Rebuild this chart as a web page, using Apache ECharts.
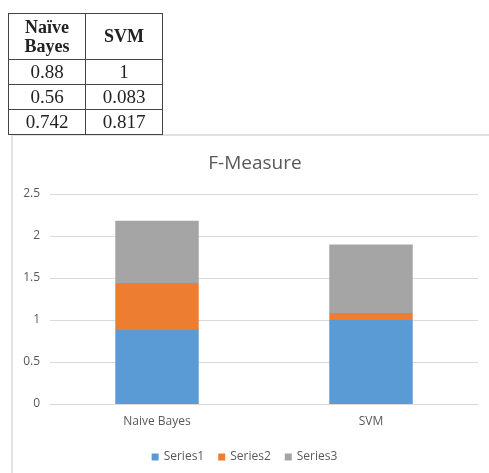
<!DOCTYPE html>
<html>
<head>
<meta charset="utf-8">
<script src="https://cdn.jsdelivr.net/npm/echarts@6/dist/echarts.min.js"></script>
<style>
  html, body { margin: 0; padding: 0; background: #fff; }
  #wrap { position: relative; width: 489px; height: 473px; overflow: hidden; }
  #chart { position: absolute; left: 0; top: 0; width: 489px; height: 473px; }
  #tbl { position: absolute; left: 8px; top: 13px; border-collapse: collapse; table-layout: fixed;
         font-family: "Liberation Serif", "DejaVu Serif", serif; color: #222; }
  #tbl td, #tbl th { border: 1.5px solid #444; text-align: center; padding: 0; overflow: hidden; white-space: nowrap; }
  #tbl th { font-weight: bold; font-size: 18px; line-height: 19px; height: 45px; }
  #tbl td { font-size: 19px; height: 24px; line-height: 20px; }
</style>
</head>
<body>
<div id="wrap">
  <div id="chart"></div>
  <table id="tbl"></table>
</div>
<script>
const categories = ["Naïve Bayes", "SVM"];
const axisCategories = ["Naive Bayes", "SVM"];
const seriesNames = ["Series1", "Series2", "Series3"];
const series1 = [0.88, 1];
const series2 = [0.56, 0.083];
const series3 = [0.742, 0.817];
const tableValues1 = ["0.88", "1"];
const tableValues2 = ["0.56", "0.083"];
const tableValues3 = ["0.742", "0.817"];
const yTicks = [0, 0.5, 1, 1.5, 2, 2.5];
const colors = ["#5B9BD5", "#ED7D31", "#A5A5A5"];

// Build table
const tbl = document.getElementById('tbl');
let html = '<tr>';
html += '<th style="width:76px">Naïve<br>Bayes</th><th style="width:76px">SVM</th></tr>';
[tableValues1, tableValues2, tableValues3].forEach(r => {
  html += '<tr><td>' + r[0] + '</td><td>' + r[1] + '</td></tr>';
});
tbl.innerHTML = html;

const chart = echarts.init(document.getElementById('chart'), null, { renderer: 'canvas' });
const seriesData = [series1, series2, series3];
chart.setOption({
  animation: false,
  color: colors,
  title: {
    text: 'F-Measure',
    left: 250, top: 149, textAlign: 'center',
    textStyle: { fontFamily: 'Open Sans', fontSize: 19, fontWeight: 'normal', color: '#595959' }
  },
  graphic: [
    { type: 'line', shape: { x1: 12, y1: 135, x2: 489, y2: 135 }, style: { stroke: '#d9d9d9', lineWidth: 1.5 } },
    { type: 'line', shape: { x1: 12, y1: 135, x2: 12, y2: 473 }, style: { stroke: '#d9d9d9', lineWidth: 1.5 } }
  ],
  legend: {
    data: seriesNames,
    left: 'center', top: 446,
    itemWidth: 7, itemHeight: 7, itemGap: 14,
    icon: 'rect',
    textStyle: { fontFamily: 'Open Sans', fontSize: 12, color: '#595959' }
  },
  grid: { left: 50, right: 11, top: 194, bottom: 69, containLabel: false },
  xAxis: {
    type: 'category',
    data: axisCategories,
    axisLine: { lineStyle: { color: '#d9d9d9' } },
    axisTick: { show: false },
    axisLabel: { fontFamily: 'Open Sans', fontSize: 12, color: '#595959', margin: 12 }
  },
  yAxis: {
    type: 'value',
    min: yTicks[0], max: yTicks[yTicks.length - 1], interval: 0.5,
    axisLine: { show: false },
    axisTick: { show: false },
    splitLine: { lineStyle: { color: '#d9d9d9' } },
    axisLabel: { fontFamily: 'Open Sans', fontSize: 12, color: '#595959', margin: 10 }
  },
  series: seriesNames.map((n, i) => ({
    name: n, type: 'bar', stack: 'total', barWidth: '39%',
    data: seriesData[i],
    itemStyle: { color: colors[i] }
  }))
});
</script>
</body>
</html>
